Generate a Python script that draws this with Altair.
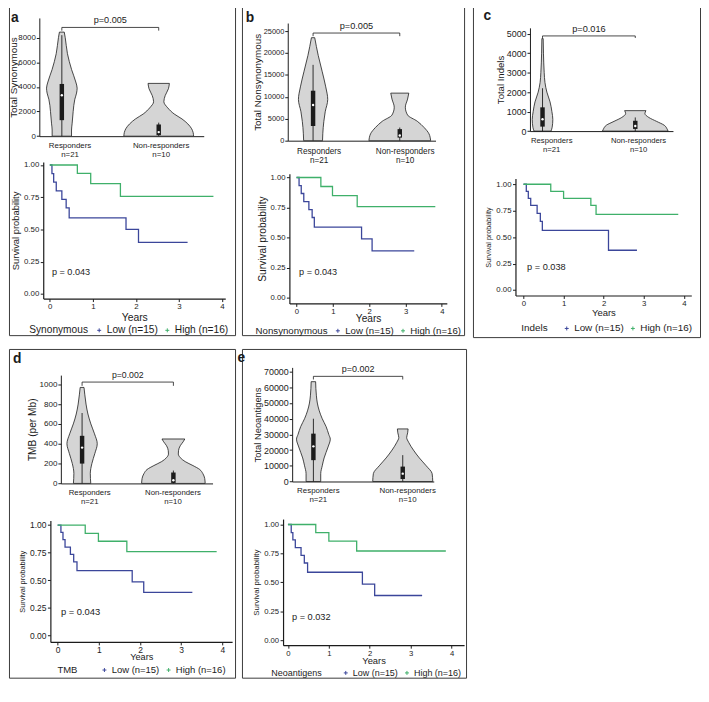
import altair as alt
import pandas as pd

FONT = "Liberation Sans"
INK = "#1b1b1b"
BLUE = "#3B469A"
GREEN = "#3FB06A"
VIOLIN_FILL = "#D5D5D5"

GROUPS = ["Responders", "Non-responders"]
GROUP_N = [21, 10]
KM_GROUPS = ["Low (n=15)", "High (n=16)"]

# ---------------- a: Synonymous ----------------
syn_resp_val = [0, 500, 1000, 2000, 3000, 3500, 3900, 4400, 5400, 6700, 8000, 8450]
syn_resp_w = [0.100, 0.100, 0.106, 0.117, 0.134, 0.152, 0.158, 0.144, 0.101, 0.058, 0.035, 0.025]
syn_non_val = [0, 300, 600, 1000, 1400, 1800, 2300, 2800, 3300, 3850, 4285]
syn_non_w = [0.360, 0.355, 0.340, 0.300, 0.240, 0.160, 0.093, 0.053, 0.067, 0.100, 0.110]
syn_resp_box = [0, 1300, 3320, 4240, 8200]   # low, q1, median, q3, high
syn_non_box = [0, 80, 330, 950, 1100]
syn_low_t = [0, 0.05, 0.09, 0.15, 0.28, 0.38, 0.45, 1.77, 2.06, 3.2]
syn_low_s = [1, 0.933, 0.867, 0.80, 0.733, 0.667, 0.59, 0.50, 0.40, 0.40]
syn_high_t = [0, 0.64, 0.95, 1.64, 3.8]
syn_high_s = [1, 0.935, 0.855, 0.757, 0.757]

# ---------------- b: Nonsynonymous ----------------
non_resp_val = [0, 1570, 4400, 6600, 9400, 12280, 15850, 19400, 23500]
non_resp_w = [0.109, 0.112, 0.124, 0.140, 0.169, 0.146, 0.104, 0.060, 0.019]
non_non_val = [0, 1570, 3000, 4430, 5850, 7640, 9500, 10850]
non_non_w = [0.356, 0.337, 0.281, 0.202, 0.090, 0.064, 0.090, 0.104]
non_resp_box = [0, 3350, 8140, 11400, 17300]
non_non_box = [0, 700, 1200, 2640, 3000]
non_low_t = [0, 0.07, 0.13, 0.2, 0.34, 0.43, 0.49, 1.79, 2.08, 3.24]
non_low_s = [1, 0.933, 0.867, 0.80, 0.733, 0.667, 0.587, 0.49, 0.39, 0.39]
non_high_t = [0, 0.67, 0.99, 1.67, 3.82]
non_high_s = [1, 0.925, 0.85, 0.757, 0.757]

# ---------------- c: Indels ----------------
ind_resp_val = [0, 200, 600, 1000, 1500, 2000, 2500, 3000, 4000, 4750]
ind_resp_w = [0.092, 0.104, 0.111, 0.101, 0.081, 0.047, 0.026, 0.018, 0.010, 0.007]
ind_non_val = [0, 100, 300, 500, 700, 900, 1050]
ind_non_w = [0.354, 0.344, 0.3125, 0.229, 0.146, 0.104, 0.115]
ind_resp_box = [0, 230, 610, 1220, 2200]
ind_non_box = [0, 110, 260, 530, 700]
ind_low_t = [0, 0.07, 0.12, 0.18, 0.34, 0.42, 0.47, 2.12, 2.83]
ind_low_s = [1, 0.933, 0.867, 0.80, 0.725, 0.65, 0.564, 0.376, 0.376]
ind_high_t = [0, 0.68, 1.0, 1.68, 1.81, 3.86]
ind_high_s = [1, 0.933, 0.867, 0.80, 0.715, 0.715]

# ---------------- d: TMB ----------------
tmb_resp_val = [0, 100, 200, 300, 400, 500, 600, 700, 800, 900, 968]
tmb_resp_w = [0.095, 0.090, 0.107, 0.139, 0.166, 0.136, 0.096, 0.064, 0.043, 0.029, 0.021]
tmb_non_val = [0, 50, 100, 140, 180, 220, 260, 297, 330, 380, 420, 448]
tmb_non_w = [0.348, 0.343, 0.322, 0.289, 0.214, 0.129, 0.075, 0.054, 0.056, 0.075, 0.107, 0.125]
tmb_resp_box = [0, 200, 361, 480, 710]
tmb_non_box = [0, 5, 32, 110, 130]
tmb_low_t = [0, 0.08, 0.13, 0.18, 0.31, 0.39, 0.47, 1.81, 2.09, 3.27]
tmb_low_s = [1, 0.933, 0.867, 0.80, 0.735, 0.667, 0.587, 0.486, 0.39, 0.39]
tmb_high_t = [0, 0.67, 0.99, 1.68, 3.86]
tmb_high_s = [1, 0.925, 0.853, 0.76, 0.76]

# ---------------- e: Neoantigens ----------------
neo_resp_val = [0, 5000, 10000, 15000, 22000, 27000, 30000, 35000, 40000, 45000, 50000, 55000, 63600]
neo_resp_w = [0.082, 0.082, 0.099, 0.120, 0.164, 0.189, 0.172, 0.142, 0.099, 0.066, 0.044, 0.033, 0.025]
neo_non_val = [0, 5000, 10000, 15000, 20000, 25000, 28000, 31000, 33500]
neo_non_w = [0.336, 0.329, 0.263, 0.186, 0.120, 0.066, 0.044, 0.055, 0.060]
neo_resp_box = [0, 13600, 22400, 30500, 40000]
neo_non_box = [0, 1600, 5000, 9500, 16800]
neo_low_t = [0, 0.08, 0.12, 0.18, 0.32, 0.4, 0.48, 1.82, 2.12, 3.28]
neo_low_s = [1, 0.93, 0.867, 0.80, 0.733, 0.667, 0.587, 0.485, 0.386, 0.386]
neo_high_t = [0, 0.68, 1.0, 1.68, 3.86]
neo_high_s = [1, 0.93, 0.857, 0.771, 0.771]

KM_TICKS = [0, 1, 2, 3, 4]
SURV_TICKS = [0, 0.25, 0.5, 0.75, 1.0]

PANELS = [
    dict(letter="a", W=229, H=333, box=(1, 1, 232, 343), letter_xy=(3, 17),
         violin=[(syn_resp_val, syn_resp_w), (syn_non_val, syn_non_w)],
         box_stats=[syn_resp_box, syn_non_box],
         v_centers=(55, 154), v_xaxis=(32, 200), v_labelpos=[1.08, 2.02],
         v_yaxis_x=32, v_y0=136, v_ytop=13, v_ymax=9600,
         v_ticks=[0, 2000, 4000, 6000, 8000], v_title="Total Synonymous", v_tpad=-1,
         bracket=(8830, 8570, 8570), v_p="p=0.005",
         fs_vtick=8, fs_vtitle=10, fs_vlab=8, fs_vp=9.2,
         km=[(syn_low_t, syn_low_s), (syn_high_t, syn_high_s)],
         k_yaxis_x=36, k_s0=300, k_s1=166, k_top=163, k_bot=305,
         k_t0=42.7, k_ppy=44, k_xaxis=(36, 222), k_tpad=2.5,
         k_p="p = 0.043", k_pxy=(0.05, 0.17),
         fs_ktick=8, fs_ktitle=9.5, fs_years=10.5, fs_kp=9.2,
         leg_title="Synonymous", leg_xy=(21.7, 338), leg_sym_x=90, fs_leg=10.3),
    dict(letter="b", W=225, H=333, box=(238, 1, 466, 343), letter_xy=(242, 16.7),
         violin=[(non_resp_val, non_resp_w), (non_non_val, non_non_w)],
         box_stats=[non_resp_box, non_non_box],
         v_centers=(311, 400), v_xaxis=(285, 436.7), v_labelpos=[1.064, 2.056],
         v_yaxis_x=285, v_y0=140.7, v_ytop=18.3, v_ymax=26840,
         v_ticks=[0, 5000, 10000, 15000, 20000, 25000], v_title="Total Nonsynonymous", v_tpad=1,
         bracket=(24560, 23850, 23850), v_p="p=0.005",
         fs_vtick=7.5, fs_vtitle=10, fs_vlab=8.3, fs_vp=9.3,
         km=[(non_low_t, non_low_s), (non_high_t, non_high_s)],
         k_yaxis_x=286.7, k_s0=304, k_s1=179, k_top=175, k_bot=310,
         k_t0=294, k_ppy=37.3, k_xaxis=(286.7, 448.3), k_tpad=-1.5,
         k_p="p = 0.043", k_pxy=(0.07, 0.21),
         fs_ktick=7.8, fs_ktitle=10.3, fs_years=10.3, fs_kp=9.2,
         leg_title="Nonsynonymous", leg_xy=(252, 338.5), leg_sym_x=333.5, fs_leg=9.8),
    dict(letter="c", W=230, H=335, box=(472, 1, 707, 345), letter_xy=(483, 15),
         violin=[(ind_resp_val, ind_resp_w), (ind_non_val, ind_non_w)],
         box_stats=[ind_resp_box, ind_non_box],
         v_centers=(544, 640), v_xaxis=(531, 679), v_labelpos=[1.094, 2.03],
         v_yaxis_x=531, v_y0=130.7, v_ytop=23.3, v_ymax=5300,
         v_ticks=[0, 1000, 2000, 3000, 4000, 5000], v_title="Total Indels", v_tpad=1,
         bracket=(4885, 4780, 4780), v_p="p=0.016",
         fs_vtick=9, fs_vtitle=9.7, fs_vlab=7.8, fs_vp=9.3,
         km=[(ind_low_t, ind_low_s), (ind_high_t, ind_high_s)],
         k_yaxis_x=516, k_s0=296, k_s1=186, k_top=180, k_bot=301.7,
         k_t0=524.3, k_ppy=41.5, k_xaxis=(516, 698), k_tpad=0,
         k_p="p = 0.038", k_pxy=(0.09, 0.215),
         fs_ktick=7.9, fs_ktitle=7.3, fs_years=9.6, fs_kp=9.3,
         leg_title="Indels", leg_xy=(522, 336), leg_sym_x=566, fs_leg=10),
    dict(letter="d", W=229, H=333, box=(2, 357, 233, 700), letter_xy=(6, 371.7),
         violin=[(tmb_resp_val, tmb_resp_w), (tmb_non_val, tmb_non_w)],
         box_stats=[tmb_resp_box, tmb_non_box],
         v_centers=(76.7, 170), v_xaxis=(55, 210), v_labelpos=[1.078, 1.99],
         v_yaxis_x=55, v_y0=497.3, v_ytop=384.3, v_ymax=1092,
         v_ticks=[0, 200, 400, 600, 800, 1000], v_title="TMB (per Mb)", v_tpad=1,
         bracket=(1022, 984, 984), v_p="p=0.002",
         fs_vtick=8.2, fs_vtitle=10.3, fs_vlab=7.9, fs_vp=8.8,
         km=[(tmb_low_t, tmb_low_s), (tmb_high_t, tmb_high_s)],
         k_yaxis_x=44.3, k_s0=656, k_s1=540.7, k_top=536, k_bot=662.7,
         k_t0=51.7, k_ppy=42.1, k_xaxis=(44.3, 230), k_tpad=-1.5,
         k_p="p = 0.043", k_pxy=(0.08, 0.217),
         fs_ktick=8.6, fs_ktitle=7.5, fs_years=9.3, fs_kp=9.5,
         leg_title="TMB", leg_xy=(51.5, 692), leg_sym_x=96.7, fs_leg=9.6),
    dict(letter="e", W=227, H=333, box=(243, 358, 472, 702), letter_xy=(238.5, 371.7),
         violin=[(neo_resp_val, neo_resp_w), (neo_non_val, neo_non_w)],
         box_stats=[neo_resp_box, neo_non_box],
         v_centers=(316, 407.3), v_xaxis=(294.3, 439), v_labelpos=[1.05, 2.05],
         v_yaxis_x=294.3, v_y0=496.7, v_ytop=377.3, v_ymax=72700,
         v_ticks=[0, 10000, 20000, 30000, 40000, 50000, 60000, 70000], v_title="Total Neoantigens",
         v_tpad=1,
         bracket=(67000, 65000, 65000), v_p="p=0.002",
         fs_vtick=9, fs_vtitle=9.5, fs_vlab=8, fs_vp=9.1,
         km=[(neo_low_t, neo_low_s), (neo_high_t, neo_high_s)],
         k_yaxis_x=285, k_s0=662.7, k_s1=541.7, k_top=536, k_bot=668,
         k_t0=290, k_ppy=41.8, k_xaxis=(285, 470), k_tpad=-1.5,
         k_p="p = 0.032", k_pxy=(0.1, 0.2),
         fs_ktick=7.8, fs_ktitle=8, fs_years=9.5, fs_kp=9.3,
         leg_title="Neoantigens", leg_xy=(273, 697), leg_sym_x=346.5, fs_leg=9.1),
]

LABEL_EXPR = "datum.value < 1.5 ? ['%s', 'n=%d'] : ['%s', 'n=%d']" % (
    GROUPS[0], GROUP_N[0], GROUPS[1], GROUP_N[1])


def build_panel(P):
    W, H = P["W"], P["H"]
    bx0, by0, bx1, by1 = P["box"]
    sx = W / (bx1 - bx0)
    sy = H / (by1 - by0)

    def fx(x):
        return (x - bx0) * sx

    def fy(y):
        return (y - by0) * sy

    # ---------- violin part ----------
    c1, c2 = P["v_centers"]
    axl, axr = P["v_xaxis"]
    unit = c2 - c1
    vx_dom = [1 - (c1 - axl) / unit, 2 + (axr - c2) / unit]
    vx_rng = [fx(axl), fx(axr)]
    vy_dom = [0, P["v_ymax"]]
    vy_rng = [fy(P["v_y0"]), fy(P["v_ytop"])]

    def VX():
        return alt.Scale(domain=vx_dom, range=vx_rng, nice=False, zero=False)

    def VY():
        return alt.Scale(domain=vy_dom, range=vy_rng, nice=False, zero=False)

    rows = []
    for gi, (vals, ws) in enumerate(P["violin"]):
        for v, w in zip(vals, ws):
            rows.append({"group": GROUPS[gi], "value": v, "left": gi + 1 - w, "right": gi + 1 + w})
    vdf = pd.DataFrame(rows)

    brows = []
    for gi, b in enumerate(P["box_stats"]):
        brows.append({"group": GROUPS[gi], "pos": gi + 1, "lo": b[0], "q1": b[1],
                      "med": b[2], "q3": b[3], "hi": b[4]})
    bdf = pd.DataFrame(brows)

    top, e1, e2 = P["bracket"]
    brdf = pd.DataFrame({"o": [0, 1, 2, 3], "x": [1, 1, 2, 2], "y": [e1, top, top, e2]})

    vx_axis = alt.Axis(orient="bottom", offset=fy(P["v_y0"]) - H, values=P["v_labelpos"],
                       labelExpr=LABEL_EXPR, ticks=False, title=None,
                       labelFontSize=P["fs_vlab"], labelLineHeight=P["fs_vlab"] + 1,
                       labelPadding=5.5, labelFlush=False, labelOverlap=False, domainWidth=1)
    vy_axis = alt.Axis(orient="left", offset=-fx(P["v_yaxis_x"]), values=P["v_ticks"], format="d",
                       title=P["v_title"], tickSize=3, labelPadding=1, titlePadding=P["v_tpad"],
                       labelFontSize=P["fs_vtick"], titleFontSize=P["fs_vtitle"],
                       minExtent=0, labelFlush=False, labelOverlap=False, domainWidth=1)

    area = alt.Chart(vdf).mark_area(
        orient="horizontal", interpolate="monotone", fill=VIOLIN_FILL,
        stroke=INK, strokeWidth=0.8
    ).encode(
        x=alt.X("left:Q", scale=VX(), axis=vx_axis, stack=None),
        x2="right:Q",
        y=alt.Y("value:Q", scale=VY(), axis=vy_axis),
        detail="group:N",
    )
    whisker = alt.Chart(bdf).mark_rule(color=INK, strokeWidth=0.9).encode(
        x=alt.X("pos:Q", scale=VX(), axis=None),
        y=alt.Y("lo:Q", scale=VY(), axis=None), y2="hi:Q")
    boxm = alt.Chart(bdf).mark_rule(color=INK, strokeWidth=4.5, strokeCap="butt").encode(
        x=alt.X("pos:Q", scale=VX(), axis=None),
        y=alt.Y("q1:Q", scale=VY(), axis=None), y2="q3:Q")
    med = alt.Chart(bdf).mark_circle(color="white", size=6, opacity=1).encode(
        x=alt.X("pos:Q", scale=VX(), axis=None),
        y=alt.Y("med:Q", scale=VY(), axis=None))
    bracket = alt.Chart(brdf).mark_line(color=INK, strokeWidth=0.8).encode(
        x=alt.X("x:Q", scale=VX(), axis=None),
        y=alt.Y("y:Q", scale=VY(), axis=None),
        order="o:Q")
    ptxt = alt.Chart(pd.DataFrame({"x": [1.5], "y": [top], "label": [P["v_p"]]})).mark_text(
        font=FONT, fontSize=P["fs_vp"], baseline="bottom", dy=-2, color=INK
    ).encode(
        x=alt.X("x:Q", scale=VX(), axis=None),
        y=alt.Y("y:Q", scale=VY(), axis=None),
        text="label:N")

    # ---------- Kaplan-Meier part ----------
    kl, kr = P["k_xaxis"]
    t0, ppy = P["k_t0"], P["k_ppy"]
    s0, s1 = P["k_s0"], P["k_s1"]
    kx_dom = [(kl - t0) / ppy, (kr - t0) / ppy]
    kx_rng = [fx(kl), fx(kr)]
    ky_dom = [(s0 - P["k_bot"]) / (s0 - s1), (s0 - P["k_top"]) / (s0 - s1)]
    ky_rng = [fy(P["k_bot"]), fy(P["k_top"])]

    def KX():
        return alt.Scale(domain=kx_dom, range=kx_rng, nice=False, zero=False)

    def KY():
        return alt.Scale(domain=ky_dom, range=ky_rng, nice=False, zero=False)

    krows = []
    for gi, (ts, ss) in enumerate(P["km"]):
        for t, s in zip(ts, ss):
            krows.append({"group": KM_GROUPS[gi], "t": t, "s": s})
    kdf = pd.DataFrame(krows)

    kx_axis = alt.Axis(orient="bottom", offset=fy(P["k_bot"]) - H, values=KM_TICKS, format="d",
                       title="Years", tickSize=3, labelPadding=1, titlePadding=P["k_tpad"],
                       labelFontSize=P["fs_ktick"], titleFontSize=P["fs_years"],
                       labelFlush=False, labelOverlap=False, domainWidth=1.2)
    ky_axis = alt.Axis(orient="left", offset=-fx(P["k_yaxis_x"]), values=SURV_TICKS, format=".2f",
                       title="Survival probability", tickSize=3, labelPadding=1.5, titlePadding=3,
                       labelFontSize=P["fs_ktick"], titleFontSize=P["fs_ktitle"], minExtent=0,
                       labelFlush=False, labelOverlap=False, domainWidth=1.2)
    lx, ly = P["leg_xy"]
    legend = alt.Legend(orient="none", legendX=fx(P["leg_sym_x"]) - 2,
                        legendY=fy(ly) - P["fs_leg"] / 2,
                        direction="horizontal", title=None, gridAlign="none",
                        labelFontSize=P["fs_leg"], labelColor=INK,
                        symbolType="M-1,0H1M0,-1V1", symbolSize=16, symbolStrokeWidth=1,
                        labelOffset=2.5, columnPadding=4, padding=0)

    lines = alt.Chart(kdf).mark_line(interpolate="step-after", strokeWidth=1.3).encode(
        x=alt.X("t:Q", scale=KX(), axis=kx_axis),
        y=alt.Y("s:Q", scale=KY(), axis=ky_axis),
        color=alt.Color("group:N", scale=alt.Scale(domain=KM_GROUPS, range=[BLUE, GREEN]),
                        legend=legend),
    )
    kpt = alt.Chart(pd.DataFrame({"t": [P["k_pxy"][0]], "s": [P["k_pxy"][1]],
                                  "label": [P["k_p"]]})).mark_text(
        font=FONT, fontSize=P["fs_kp"], align="left", baseline="middle", color=INK
    ).encode(
        x=alt.X("t:Q", scale=KX(), axis=None),
        y=alt.Y("s:Q", scale=KY(), axis=None),
        text="label:N")

    legtitle = alt.Chart(pd.DataFrame({"k": [P["leg_title"]]})).mark_text(
        font=FONT, fontSize=P["fs_leg"], align="left", baseline="middle", color=INK
    ).encode(x=alt.value(fx(lx)), y=alt.value(fy(ly)), text="k:N")

    lx0, ly0 = P["letter_xy"]
    letter = alt.Chart(pd.DataFrame({"k": [P["letter"]]})).mark_text(
        font=FONT, fontSize=14, fontWeight="bold", align="left", baseline="alphabetic", color=INK
    ).encode(x=alt.value(fx(lx0)), y=alt.value(fy(ly0)), text="k:N")

    return alt.layer(area, whisker, boxm, med, bracket, ptxt, lines, kpt, legtitle, letter
                     ).resolve_scale(x="independent", y="independent").properties(width=W, height=H)


panels = [build_panel(P) for P in PANELS]

chart = alt.concat(
    *panels, columns=3, align="none", bounds="flush", spacing={"row": 12, "column": 7}
).resolve_scale(
    color="independent"
).properties(
    padding={"top": -7, "left": 0, "right": 0, "bottom": 0}
).configure_view(
    stroke="#3a3a3a", strokeWidth=1
).configure_axis(
    grid=False, labelFont=FONT, titleFont=FONT, labelColor=INK, titleColor=INK,
    domainColor=INK, tickColor=INK, titleFontWeight="normal"
).configure_text(font=FONT).configure_legend(labelFont=FONT, titleFont=FONT)

chart.save("out.html", embed_options={"renderer": "svg", "actions": False})
